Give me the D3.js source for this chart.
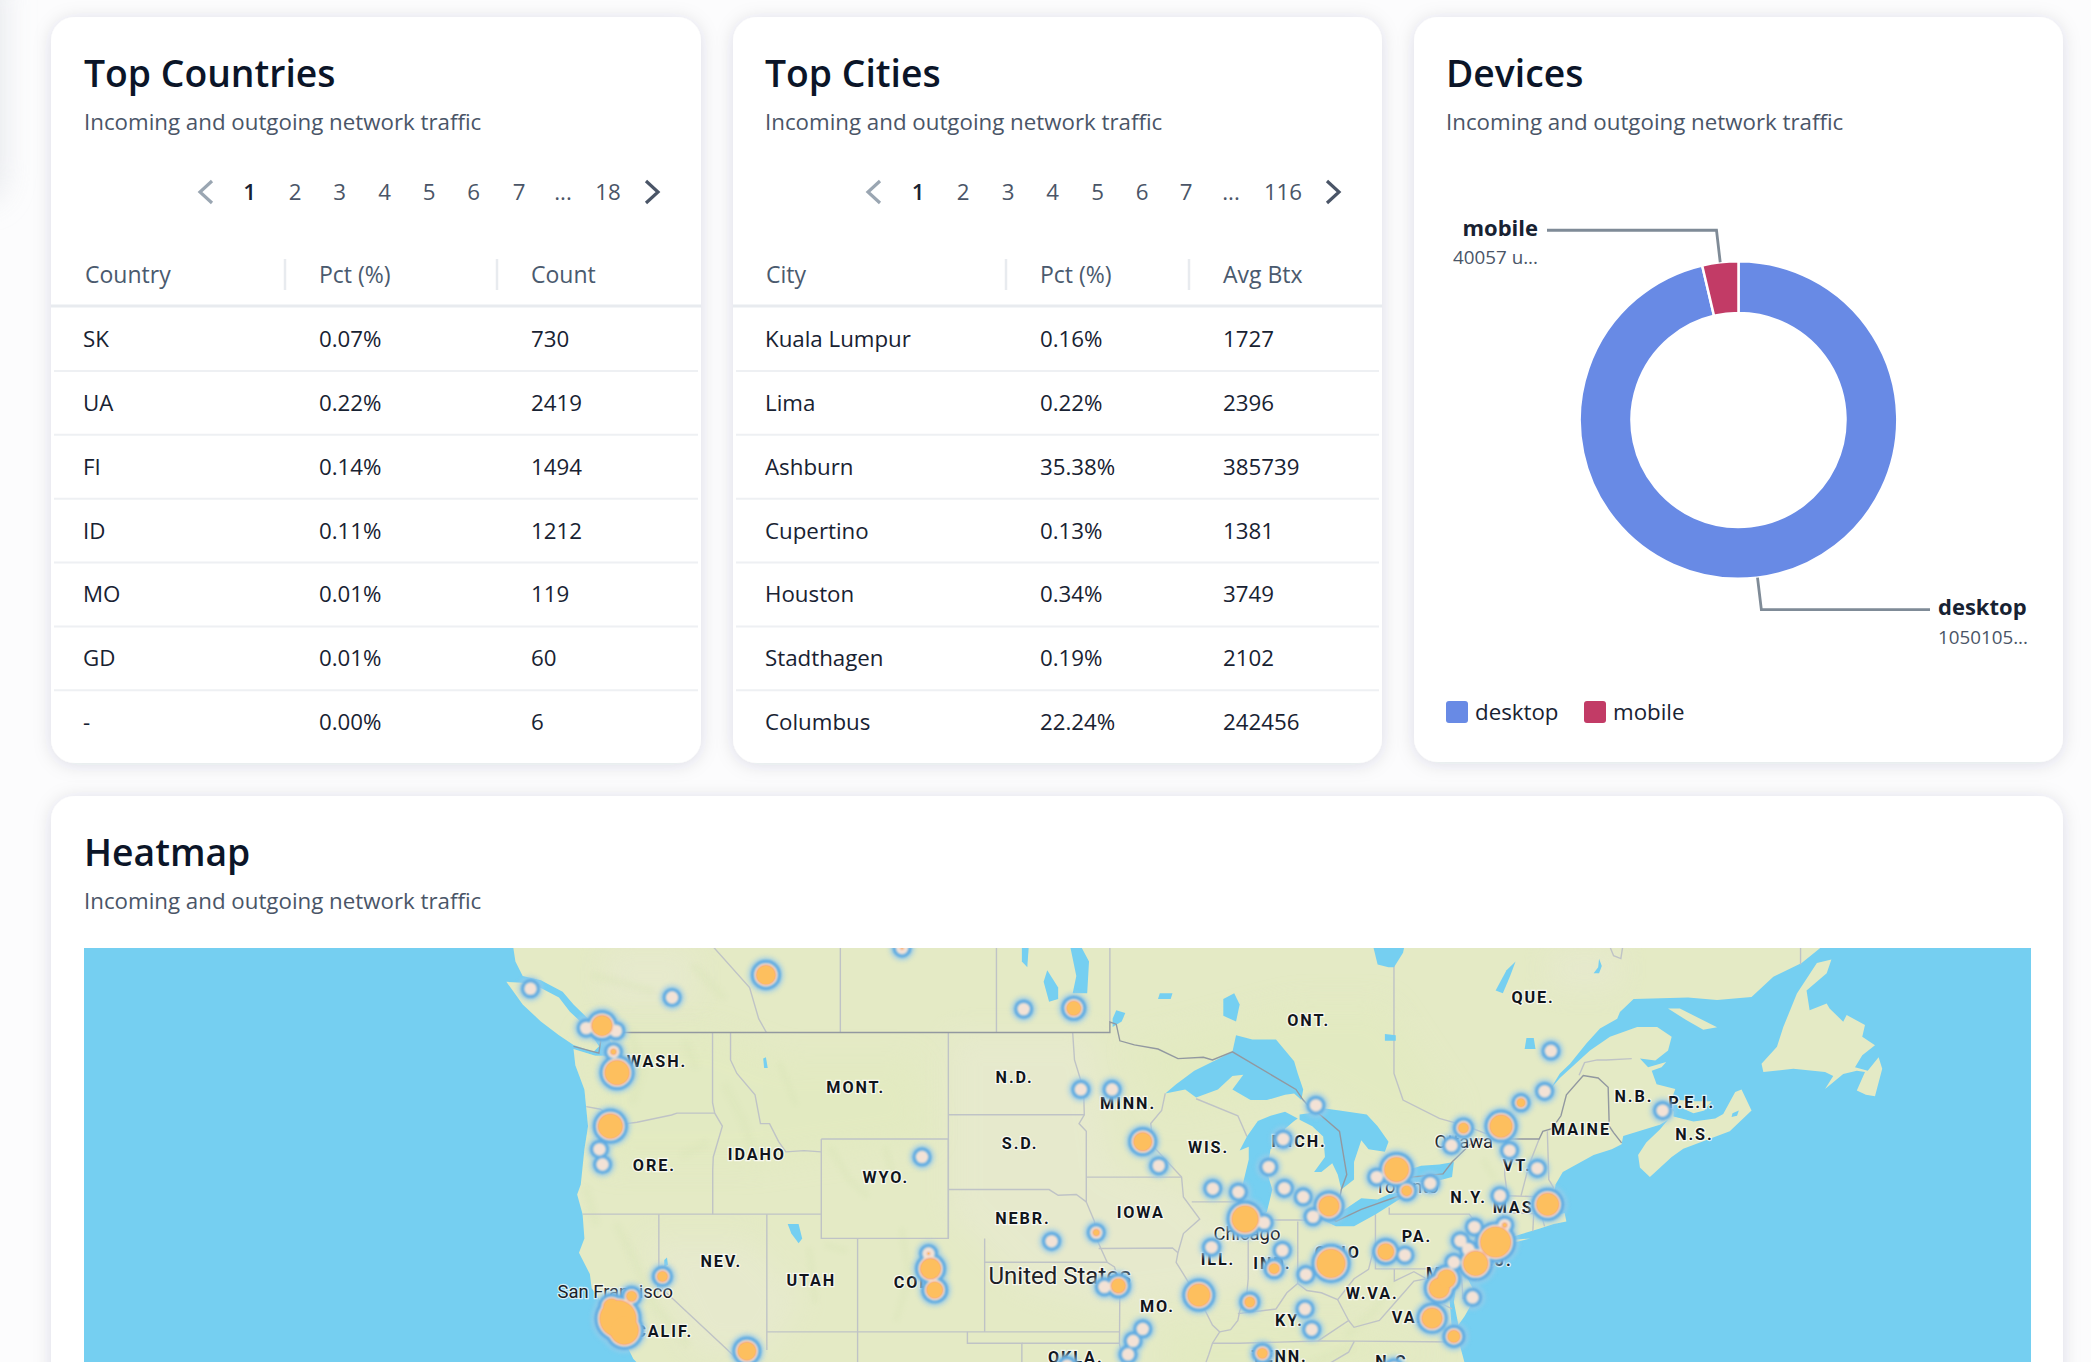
<!DOCTYPE html>
<html><head><meta charset="utf-8">
<script src="https://cdnjs.cloudflare.com/ajax/libs/d3/7.8.5/d3.min.js"></script>
<style>html,body{margin:0;padding:0;background:#fcfcfd;overflow:hidden}svg{display:block}text{font-family:"Open Sans",sans-serif}</style>
</head><body><svg id="c" width="2091" height="1362"></svg>
<script>
// ---------- data ----------
const subtitle = "Incoming and outgoing network traffic";
const countryHeaders = ["Country","Pct (%)","Count"];
const countryNames = ["SK","UA","FI","ID","MO","GD","-"];
const countryPct = ["0.07%","0.22%","0.14%","0.11%","0.01%","0.01%","0.00%"];
const countryCount = [730,2419,1494,1212,119,60,6];
const cityHeaders = ["City","Pct (%)","Avg Btx"];
const cityNames = ["Kuala Lumpur","Lima","Ashburn","Cupertino","Houston","Stadthagen","Columbus"];
const cityPct = ["0.16%","0.22%","35.38%","0.13%","0.34%","0.19%","22.24%"];
const cityAvg = [1727,2396,385739,1381,3749,2102,242456];
const pagesCountries = ["1","2","3","4","5","6","7","...","18"];
const pagesCities = ["1","2","3","4","5","6","7","...","116"];
const deviceNames = ["desktop","mobile"];
const deviceValues = [1050105,40057];
const deviceSubs = ["1050105...","40057 u..."];
const deviceColors = ["#688AE5","#C23B66"];

// map geography, [lon,lat]
const mainland = [[-129,53],[-128.1,52.3],[-127.9,51.5],[-127.5,51],[-126.5,50.85],[-125.3,50.45],[-124.7,50],[-123.9,49.5],[-123.2,49.3],[-122.9,49],[-122.6,48.6],[-122.4,48.2],[-122.3,47.5],[-122.6,47.2],[-123,47.2],[-122.7,47.8],[-122.7,48.15],[-123.5,48.15],[-124.7,48.4],[-124.6,47.8],[-124.1,46.9],[-124,46.2],[-123.9,45.5],[-124.1,44.6],[-124.3,43.2],[-124.5,42.8],[-124.2,42],[-124.1,41],[-124.4,40.4],[-123.8,39.5],[-123.7,38.9],[-122.9,38],[-122.5,37.7],[-122.4,37.2],[-121.9,36.6],[-121.4,35.8],[-120.7,35.2],[-120.6,34.6],[-120.6,34],[-75.5,34],[-75.5,35.3],[-76,36.8],[-76.3,37],[-76.4,38],[-76.5,39.2],[-76,39.4],[-76.2,38.3],[-75.95,37.3],[-75.6,37.7],[-75.1,38.4],[-75.1,38.8],[-75.5,39.4],[-74.9,39.2],[-74.2,39.7],[-74,40.4],[-74,40.6],[-72,41],[-73.7,40.9],[-71.5,41.4],[-70.7,41.6],[-70,41.7],[-70.1,42.05],[-70.6,41.95],[-71,42.3],[-70.7,42.7],[-70.6,43.2],[-70.2,43.7],[-69.6,43.94],[-68.5,44.38],[-67.5,44.6],[-66.96,44.8],[-66.87,45.12],[-64.85,45.56],[-64.4,45.75],[-64.85,45.37],[-65.6,44.87],[-66.05,44.38],[-65.95,43.88],[-65.4,43.5],[-64.2,44.3],[-63.56,44.62],[-61,45.3],[-59.8,46.1],[-60.35,46.9],[-60.7,46.8],[-61.36,45.97],[-61.8,45.8],[-63,45.68],[-64.1,45.87],[-64.1,46.05],[-64.3,46.36],[-64,46.92],[-65.03,47.1],[-65.3,47.6],[-64.76,47.73],[-64.5,47.92],[-65.5,47.73],[-65.95,48.05],[-65.1,47.98],[-64.4,48.35],[-64.2,48.85],[-65,49.2],[-66.1,49.2],[-67.6,48.85],[-68.7,48.35],[-69.44,47.9],[-70.36,47.33],[-70.9,46.9],[-70.36,47.5],[-69.8,47.86],[-68.9,48.6],[-68.15,49.15],[-67.2,49.5],[-67.05,49.74],[-66.3,50.2],[-63.3,50.25],[-61.7,50.16],[-59.8,50.27],[-58.6,50.98],[-57.04,51.45],[-55.94,52],[-55.5,53]];
const islands = [
 [[-128.4,50.8],[-127,50.75],[-125.5,50.25],[-124.9,49.75],[-124,49.2],[-123.3,48.5],[-123.6,48.3],[-124.7,48.55],[-125.5,48.9],[-126.5,49.4],[-127.5,50]],
 [[-55.4,51.57],[-55.66,51.1],[-56.77,50.5],[-56.6,49.8],[-55.66,50.04],[-55.5,49.86],[-54.75,49.39],[-54.56,49.63],[-53.55,49.27],[-53.7,48.85],[-53,48.54],[-53.7,48.17],[-54.1,47.73],[-53.4,47.6],[-52.8,48.1],[-52.6,47.67],[-53,46.64],[-53.5,46.7],[-54,46.86],[-53.55,47.55],[-54,47.6],[-54.75,47.48],[-55.75,46.92],[-55.3,47.4],[-55.75,47.55],[-57.5,47.67],[-59.15,47.55],[-59.25,47.86],[-58.4,48.48],[-58.05,49.2],[-57.3,50.39],[-56.2,51.45]],
 [[-64.4,49.86],[-63.75,49.86],[-61.7,49.19],[-62.46,49.1],[-63.4,49.45]],
 [[-64.4,46.6],[-63.8,46.5],[-62.9,46.45],[-62,46.45],[-62.4,46.1],[-63,46],[-63.8,46.25]]
];
const lakes = [
 [[-92.1,46.75],[-91,46.9],[-90.4,46.6],[-89.2,46.9],[-88.4,47.4],[-87.8,47.45],[-88.4,46.9],[-87.4,46.5],[-86.5,46.5],[-85.5,46.7],[-85,46.75],[-84.6,46.5],[-84.5,46.9],[-84.8,47.5],[-85,47.95],[-86,48.75],[-87.3,48.75],[-88.2,48.9],[-88.4,48.3],[-89.3,48],[-90.5,47.6],[-91.5,47.1]],
 [[-87.5,41.65],[-87.2,41.7],[-86.5,42.1],[-86.2,43],[-86.5,43.7],[-86.3,44.6],[-85.6,45],[-85.5,45.4],[-85,45.7],[-84.8,45.8],[-85.5,46.05],[-86.3,45.9],[-87,45.7],[-87.6,45.1],[-88,44.55],[-87.5,44.7],[-87.5,44.2],[-87.9,43],[-87.8,42.3]],
 [[-84.7,45.75],[-84,45.5],[-83.4,45.1],[-83.3,44.3],[-83.9,43.7],[-83.5,43.7],[-82.9,44.05],[-82.6,43.6],[-82.4,43],[-81.7,43.4],[-81.7,44.1],[-81.3,44.95],[-80.9,44.6],[-80,44.5],[-79.8,44.9],[-80.4,45.5],[-81,45.95],[-82.5,46.1],[-83.5,46.2],[-84.2,46],[-84.7,45.95]],
 [[-83.4,41.75],[-82.7,41.5],[-81.7,41.5],[-80.5,42],[-79,42.7],[-78.9,42.9],[-79.6,42.87],[-80.4,42.6],[-81.3,42.65],[-82.5,42.05],[-83.1,42.1]],
 [[-79.7,43.25],[-79,43.27],[-77.5,43.27],[-76.3,43.5],[-76.2,44.1],[-77,44],[-78,43.95],[-79.3,43.65],[-79.7,43.4]],
 [[-82.9,42.35],[-82.5,42.65],[-82.45,42.35]],
 [[-97.2,50.4],[-96.4,50.4],[-96.3,51.5],[-96.9,52.2],[-97.4,52.2],[-97,51]],
 [[-98.5,50.1],[-98,50.2],[-98,50.6],[-98.6,51.2],[-98.8,50.8]],
 [[-100,52.2],[-99.6,52.2],[-99.7,51.3],[-100,51.5]],
 [[-95,49.2],[-94.5,49.4],[-94.3,49.7],[-94.8,49.8],[-95,49.5]],
 [[-88.9,49.6],[-88.2,49.4],[-88,50],[-88.3,50.4],[-88.9,50.2]],
 [[-92.5,50.2],[-91.8,50.2],[-91.7,50.4],[-92.4,50.4]],
 [[-80.8,52.4],[-78.8,52.4],[-79,51.8],[-79.5,51.3],[-79.8,51.3],[-80.4,51.4]],
 [[-80,48.7],[-79.4,48.7],[-79.4,48.9],[-80,48.95]],
 [[-73.9,50.5],[-73.3,51.2],[-72.8,51.5],[-73.1,51],[-73.5,50.4]],
 [[-68.2,51.6],[-68.05,51.35],[-68.2,51.1],[-68.5,51.1],[-68.25,51.3]],
 [[-72.3,48.4],[-71.7,48.4],[-71.8,48.8],[-72.2,48.8]],
 [[-112.9,41.6],[-112.3,41.6],[-112.1,41],[-112.3,40.8],[-112.7,41.2]],
 [[-114.2,47.7],[-114,47.7],[-114.1,48.1],[-114.25,48.05]],
 [[-120.1,38.9],[-119.95,38.9],[-119.95,39.2],[-120.1,39.2]],
 [[-119.7,39.8],[-119.5,39.9],[-119.55,40.2],[-119.7,40.1]],
 [[-60.9,45.85],[-60.6,45.9],[-60.5,46.1],[-60.85,46]]
];
const paleLand = [
 [[-104,49],[-96,49],[-95,44],[-91,43],[-88,41],[-85,39.5],[-90,38.5],[-95,38],[-100,39],[-104,42]],
 [[-121,41],[-115,41],[-112,38.5],[-114,36],[-118,36]],
 [[-71,52],[-67,52],[-67,50.5],[-71,50.5]],
 [[-123,52],[-118,52],[-118,50],[-123,50]]
];
const greenLand = [
 [[-124,49],[-117,49],[-113,48],[-106,48],[-105,45],[-115,44],[-123,44]],
 [[-94,48.5],[-85,50],[-80,50],[-76,46],[-79,45],[-84,47],[-92,46]],
 [[-92,37],[-82,37.2],[-77,36],[-84,35],[-92,35]]
];
const ridges = [
 [[-121.5,49],[-121,47.5],[-121.4,46.5]],[[-118.5,48.6],[-118,47.8]],[[-116.3,47],[-115.3,45.6],[-114.8,44.5]],[[-113.3,47.8],[-112.5,46.4]],
 [[-110.5,44.6],[-109.5,43.4],[-108.6,42.8]],[[-106.6,41.3],[-106.2,39.4],[-106.9,37.6]],[[-110.7,40.7],[-109.8,40.5]],[[-122.3,41.5],[-121.4,40.2],[-120.3,38.2],[-118.5,36.5]],
 [[-111.7,40.5],[-111.4,38.4]],[[-117.5,44.8],[-118.6,44.4]],[[-107.5,44.6],[-107.1,43.5]],[[-124,43],[-123.5,41.7]],
 [[-79.5,39.3],[-80.6,37.9],[-82,36.9]],[[-84,35.6],[-81.9,36.3]],[[-74.5,44.1],[-74,43.5]],[[-72.8,44],[-71.6,44.5]],[[-123.5,51],[-120.5,50.5]],[[-118,51.3],[-116.5,50.3]]
];
const borderLines = [
 [[-124.7,48.5],[-123.3,48.25],[-123.2,48.7],[-123.3,49],[-122.75,49],[-95.15,49],[-95.15,49.38],[-94.8,49.3],[-94.6,48.7],[-93.8,48.55],[-92.5,48.4],[-91.4,48.05],[-90,48.1],[-89.5,48],[-88.4,48.3],[-84.9,46.9],[-84.5,46.5],[-84.1,46.2],[-83.5,45.9],[-82.5,45.3],[-82.1,43.6],[-82.4,43],[-82.5,42.6],[-83.1,42.1],[-82.7,41.7],[-81.3,42.2],[-79,42.8],[-79.05,43.3],[-79.2,43.45],[-76.8,43.63],[-76.3,44.1],[-75,45],[-74.7,45],[-71.5,45],[-71.3,45.3],[-70.8,45.4],[-70.3,45.9],[-70,46.7],[-69.07,47.42],[-68.25,47.33],[-67.7,46.98],[-67.64,45.5],[-67.4,45.25],[-66.96,44.85]]
];
const stateLines = [
 [[-124,46.25],[-123.2,46.15],[-122.8,45.9],[-122.3,45.55],[-121.2,45.65],[-119.3,45.93],[-119,46],[-116.92,46]],
 [[-117.04,49],[-117.04,46.4],[-116.92,46],[-116.5,45.5],[-117,44.3],[-117.03,43.8],[-117.03,42]],
 [[-124.2,42],[-111.05,42]],
 [[-116.05,49],[-116.05,48],[-115.7,47.5],[-114.7,46.7],[-114.4,45.6],[-113.9,45.6],[-113.4,44.9],[-113,44.5],[-112,44.55],[-111.05,44.5]],
 [[-111.05,45],[-104.05,45],[-104.05,41],[-111.05,41],[-111.05,45]],
 [[-104.05,49],[-104.05,41]],
 [[-104.05,45.94],[-96.56,45.94]],
 [[-104.05,43],[-98.5,43],[-98,42.77],[-97,42.8],[-96.45,42.5]],
 [[-102.05,41],[-102.05,40],[-95.3,40]],
 [[-97.2,49],[-97.1,48],[-96.6,46.9],[-96.56,45.94],[-96.85,45.6],[-96.45,45.3],[-96.45,42.5],[-96,41.7],[-95.9,41],[-95.3,40],[-94.9,39.8],[-94.6,39.1],[-94.62,36.5],[-94.43,35.4]],
 [[-120,42],[-120,39],[-114.63,35]],
 [[-114.05,42],[-114.05,36.2]],
 [[-109.05,41],[-109.05,35]],
 [[-102.05,40],[-102.05,37]],
 [[-114.05,37],[-94.62,37]],
 [[-103,37],[-103,36.5],[-100,36.5],[-100,35]],
 [[-100,36.5],[-94.62,36.5]],
 [[-96.45,43.5],[-91.22,43.5]],
 [[-92.1,46.75],[-92.3,46.1],[-92.9,45.6],[-92.75,44.7],[-91.2,43.5],[-91.1,42.7],[-90.2,41.8],[-91.1,41.2],[-91.4,40.4],[-91.5,40],[-90.7,39],[-90.2,38.7],[-90.2,38.4],[-89.5,37.3],[-89.1,37],[-89.5,36.5],[-89.7,36],[-90.1,35.1]],
 [[-95.77,40.58],[-91.7,40.6],[-91.4,40.4]],
 [[-90.64,42.5],[-87.8,42.5]],
 [[-90.4,46.55],[-88.1,45.9],[-87.6,45.1]],
 [[-87.53,41.7],[-87.53,39.3],[-87.6,38.7],[-88,37.9],[-88.1,37.5],[-88.5,37.1],[-89.1,37]],
 [[-84.8,41.7],[-84.8,39.1]],
 [[-87.2,41.76],[-84.8,41.76],[-83.45,41.73]],
 [[-88.1,37.8],[-87,37.9],[-86,38],[-85.4,38.7],[-84.8,39.1],[-84.3,38.8],[-83.5,38.7],[-82.6,38.4],[-82,39],[-81.7,39.3],[-80.9,39.7],[-80.6,40.6]],
 [[-80.52,42],[-80.52,39.72],[-75.8,39.72],[-75.7,38.46],[-75.05,38.45]],
 [[-79.76,42.27],[-79.76,42],[-75.35,42],[-74.7,41.36],[-73.9,41]],
 [[-74.7,41.36],[-75.1,40.9],[-74.75,40.2],[-75.4,39.8]],
 [[-73.35,45],[-73.4,43.6],[-73.25,42.75],[-73.5,42.05],[-73.5,41.3],[-73.65,41]],
 [[-73.25,42.75],[-71.3,42.7],[-70.85,42.87]],
 [[-73.5,42.05],[-71.4,42.02],[-71.2,41.5]],
 [[-71.8,42.02],[-71.85,41.3]],
 [[-71.5,45],[-72.05,44],[-72.5,42.75]],
 [[-71.05,45.3],[-70.97,43.4],[-70.7,43.07]],
 [[-82,37.5],[-81.7,37.2],[-80.3,37.5],[-79.3,38.4],[-78.4,39.2],[-77.7,39.3]],
 [[-79.48,39.72],[-79.48,39.2],[-78.4,39.6],[-77.7,39.3],[-77,38.9],[-77.3,38.4],[-76.3,38]],
 [[-83.68,36.6],[-82,37.5],[-82.6,38.4]],
 [[-89.5,36.5],[-88,36.5],[-83.68,36.6],[-81.68,36.59],[-75.9,36.55]],
 [[-81.68,36.59],[-82,36.1],[-84.3,35]],
 [[-79.5,53],[-79.5,47.5],[-79,46.5],[-77,45.8],[-75.5,45.5],[-74.4,45.2]],
 [[-95.15,53],[-95.15,49.38]],
 [[-101.4,53],[-101.4,49]],
 [[-110,53],[-110,49]],
 [[-118,53],[-117,52],[-115,50.6],[-114.5,49.5],[-114.07,49]],
 [[-69.3,47.43],[-69,47.9],[-68.3,48],[-67.8,48],[-66.4,48.05]],
 [[-57.1,51.4],[-57.1,53]],
 [[-67.6,52],[-67.4,51.7],[-67,51.6],[-66.9,52]]
];
const placeLabels = [["WASH.",-120.1,47.97],["MONT.",-109.15,46.98],["N.D.",-100.4,47.36],["S.D.",-100.1,44.85],["IDAHO",-114.6,44.4],["ORE.",-120.25,44],["WYO.",-107.5,43.51],["NEBR.",-99.94,41.86],["NEV.",-116.56,40.04],["UTAH",-111.6,39.24],["COLO.",-105.56,39.17],["CALIF.",-119.7,37.03],["QUE.",-71.84,50.28],["ONT.",-84.2,49.45],["MINN.",-94.15,46.4],["N.B.",-66.28,46.65],["P.E.I.",-63.1,46.43],["MAINE",-69.2,45.4],["N.S.",-62.95,45.2],["WIS.",-89.72,44.7],["MICH.",-84.73,44.93],["VT.",-72.7,43.99],["N.Y.",-75.39,42.7],["MASS.",-72.43,42.3],["IOWA",-93.45,42.07],["PA.",-78.23,41.1],["OHIO",-82.6,40.45],["ILL.",-89.2,40.15],["IND.",-86.2,39.95],["N.J.",-74,40.1],["W.VA.",-80.7,38.7],["MD.",-76.8,39.55],["MO.",-92.53,38.15],["KY.",-85.26,37.5],["VA.",-78.76,37.65],["TENN.",-85.8,35.95],["OKLA.",-97.03,35.9],["N.C.",-79.46,35.7]];
const cityLabels = [["San Francisco",-122.4,38.73,18.4],["Chicago",-87.6,41.2,18.4],["Ottawa",-75.65,44.9,18.4],["Toronto",-78.8,43.1,18.4],["United States",-97.9,39.35,24]];
// heat points: lon, lat, size of hot core
const heatPoints = [[-127.07,50.56,0],[-119.27,50.25,0],[-114.1,51.04,9.5],[-106.6,51.96,1],[-99.9,49.84,0],[-123.13,49.25,10],[-124,49.16,0],[-122.36,49.06,0],[-122.5,48.3,2.5],[-122.3,47.53,12],[-122.67,45.5,12],[-123.27,44.6,0],[-123.1,44,0],[-105.5,44.3,0],[-119.8,39.4,5],[-121.5,38.55,5],[-122.6,38.09,8],[-122.25,37.58,18],[-121.9,37.07,14],[-115.15,36.15,9],[-105.03,39.73,10],[-105.14,40.37,1],[-104.8,38.82,8],[-98.36,40.88,0],[-95.9,41.24,3],[-97.14,49.87,7],[-70.85,48.33,0],[-71.2,46.83,0],[-72.5,46.4,4],[-73.6,45.5,11],[-75.67,45.43,5],[-76.33,44.75,0],[-73.13,44.55,0],[-71.6,43.85,0],[-64.7,46.1,0],[-83.8,46.3,0],[-85.6,45,0],[-86.4,43.9,0],[-85.54,43.05,0],[-84.5,42.7,0],[-83.08,42.33,10],[-83.96,41.9,0],[-89.48,43.04,0],[-88.07,42.9,0],[-87.7,41.8,13],[-86.65,41.65,0],[-93.34,44.9,9],[-92.46,43.95,0],[-96.75,46.9,0],[-95.03,46.9,0],[-89.55,40.63,0],[-85.65,40.5,0],[-86.1,39.73,5],[-84.35,39.48,0],[-82.97,39.95,14],[-79.95,40.45,8],[-78.9,40.3,0],[-79.36,43.8,12],[-80.45,43.5,0],[-77.5,43.25,0],[-78.8,42.95,5],[-73.66,42.75,0],[-71.03,42.4,11],[-73.9,40.85,15],[-73.4,41.55,2],[-75.07,41.47,0],[-75.84,40.9,0],[-75.4,40.55,0],[-75,39.95,12],[-76.2,40,0],[-77,38.9,10],[-76.6,39.3,9],[-75.17,38.5,0],[-77.4,37.6,10],[-76.2,36.8,6],[-94.68,39,7],[-95.45,38.95,0],[-90.25,38.6,11],[-87.44,38.3,5],[-84.4,38,0],[-84.03,37.1,0],[-93.34,37.13,0],[-93.87,36.6,0],[-94.15,36,0],[-86.75,36.05,5],[-97.5,35.5,0],[-79.5,35.4,0]];

// ---------- drawing ----------
const svg = d3.select("#c");
const defs = svg.append("defs");
const sh = defs.append("filter").attr("id","sh").attr("x","-10%").attr("y","-10%").attr("width","120%").attr("height","125%");
sh.append("feDropShadow").attr("dx",0).attr("dy",2).attr("stdDeviation",9).attr("flood-color","#1f2d3d").attr("flood-opacity",0.13);
[["b1",1],["b2",2.2],["b8",14],["b14",16]].forEach(([id,s])=>defs.append("filter").attr("id",id).attr("x","-100%").attr("y","-100%").attr("width","300%").attr("height","300%").append("feGaussianBlur").attr("stdDeviation",s));

// faint edge of the side panel at top-left
svg.append("rect").attr("x",-40).attr("y",-30).attr("width",42).attr("height",230).attr("rx",20).attr("fill","#dfe2e7").attr("filter","url(#b14)").attr("opacity",.8);

const cards = [
 {x:51,y:17,w:650,h:746,title:"Top Countries"},
 {x:733,y:17,w:649,h:746,title:"Top Cities"},
 {x:1414,y:17,w:649,h:745,title:"Devices"},
 {x:51,y:796,w:2012,h:640,title:"Heatmap"}
];
const titleColor="#0b1528", subColor="#4a5567", headColor="#4a5a6e", rowColor="#182232", lineColor="#e8ebef";
const cg = svg.selectAll("g.card").data(cards).join("g").attr("class","card").attr("transform",d=>`translate(${d.x},${d.y})`);
cg.append("rect").attr("width",d=>d.w).attr("height",d=>d.h).attr("rx",24).attr("fill","#fff").attr("filter","url(#sh)");
cg.append("text").attr("x",d=>d.x==733||d.x==1414?32:33).attr("y",70).attr("font-size",37.3).attr("font-weight",600).attr("fill",titleColor).text(d=>d.title);
cg.append("text").attr("x",d=>d.x==733||d.x==1414?32:33).attr("y",113).attr("font-size",22.3).attr("fill",subColor).text(subtitle);

function chevron(g,x,y,dir,col){
  g.append("path").attr("d",d3.line()([[x-dir*6,y-11],[x+dir*6,y],[x-dir*6,y+11]])).attr("fill","none").attr("stroke",col).attr("stroke-width",3.2);
}
function pager(pages,xs,prev,next){
  const g=svg.append("g");
  chevron(g,prev,192,-1,"#9aa6b2");
  chevron(g,next,192,1,"#4a5567");
  g.selectAll("text").data(pages).join("text").attr("x",(d,i)=>xs[i]).attr("y",200).attr("text-anchor","middle").attr("font-size",22.3).attr("font-weight",(d,i)=>i==0?600:400).attr("fill",(d,i)=>i==0?rowColor:subColor).text(d=>d);
}
pager(pagesCountries,[249.5,295,339.5,384.5,429,473.5,519,563,608],206,652);
pager(pagesCities,[918,963,1008,1052.5,1097.5,1142,1186,1231,1283],874,1333);

const rowY = d3.scaleLinear().domain([0,1]).range([347,410.85]);
function table(x0,x1,hdr,hx,seps,cols,cx){
  const g=svg.append("g");
  g.selectAll("text.h").data(hdr).join("text").attr("class","h").attr("x",(d,i)=>hx[i]).attr("y",283).attr("font-size",23).attr("font-weight",500).attr("fill",headColor).text(d=>d);
  g.selectAll("line.s").data(seps).join("line").attr("class","s").attr("x1",d=>d).attr("x2",d=>d).attr("y1",259).attr("y2",290).attr("stroke",lineColor).attr("stroke-width",2.5);
  g.append("line").attr("x1",x0).attr("x2",x1).attr("y1",306).attr("y2",306).attr("stroke",lineColor).attr("stroke-width",3);
  g.selectAll("line.r").data(d3.range(6)).join("line").attr("class","r").attr("x1",x0+3).attr("x2",x1-3).attr("y1",d=>rowY(d)+24).attr("y2",d=>rowY(d)+24).attr("stroke","#eef0f3").attr("stroke-width",2);
  cols.forEach((col,k)=>g.selectAll("text.c"+k).data(col).join("text").attr("class","c"+k).attr("x",cx[k]).attr("y",(d,i)=>rowY(i)).attr("font-size",22.3).attr("fill",rowColor).text(d=>d));
}
table(51,701,countryHeaders,[85,319,531],[285,497],[countryNames,countryPct,countryCount],[83,319,531]);
table(733,1382,cityHeaders,[766,1040,1223],[1006,1189],[cityNames,cityPct,cityAvg],[765,1040,1223]);

// donut
const cxD=1738.5, cyD=420, R=158.8, r0=107;
const pie=d3.pie().sort(null)(deviceValues);
const arc=d3.arc().innerRadius(r0).outerRadius(R);
const dg=svg.append("g").attr("transform",`translate(${cxD},${cyD})`);
dg.selectAll("path").data(pie).join("path").attr("d",arc).attr("fill",(d,i)=>deviceColors[i]).attr("stroke","#fff").attr("stroke-width",2.5);
function leader(i,elbowR,endX){
  const a=(pie[i].startAngle+pie[i].endAngle)/2;
  const ang=i==0?Math.PI-0.12:a;
  const p0=[cxD+R*Math.sin(ang),cyD-R*Math.cos(ang)];
  const p1=[cxD+elbowR*Math.sin(ang),cyD-elbowR*Math.cos(ang)];
  svg.append("path").attr("d",d3.line()([p0,p1,[endX,p1[1]]])).attr("fill","none").attr("stroke","#7f8b97").attr("stroke-width",2.8);
}
leader(1,191,1547);
leader(0,191,1930);
const lab=svg.append("g");
lab.append("text").attr("x",1538).attr("y",236).attr("text-anchor","end").attr("font-size",22).attr("font-weight",700).attr("fill",rowColor).text(deviceNames[1]);
lab.append("text").attr("x",1538).attr("y",264).attr("text-anchor","end").attr("font-size",18.8).attr("fill",subColor).text(deviceSubs[1]);
lab.append("text").attr("x",1938).attr("y",615).attr("font-size",22).attr("font-weight",700).attr("fill",rowColor).text(deviceNames[0]);
lab.append("text").attr("x",1938).attr("y",644).attr("font-size",18.8).attr("fill",subColor).text(deviceSubs[0]);
const legX=[1446,1584];
const lg=svg.append("g").selectAll("g").data(deviceNames).join("g").attr("transform",(d,i)=>`translate(${legX[i]},701)`);
lg.append("rect").attr("width",22).attr("height",22).attr("rx",3).attr("fill",(d,i)=>deviceColors[i]);
lg.append("text").attr("x",29).attr("y",19).attr("font-size",22.3).attr("fill",rowColor).text(d=>d);

// map
const mapX=84, mapY=948, mapW=1947, mapH=414;
defs.append("clipPath").attr("id","mapclip").append("rect").attr("x",mapX).attr("y",mapY).attr("width",mapW).attr("height",mapH+60);
const proj=d3.geoMercator().scale(1040).translate([2837,2055.7]).precision(0);
const ringPath=c=>d3.line()(c.map(p=>proj(p)))+"Z";
const linePath=c=>d3.line()(c.map(p=>proj(p)));
const m=svg.append("g").attr("clip-path","url(#mapclip)");
m.append("rect").attr("x",mapX).attr("y",mapY).attr("width",mapW).attr("height",mapH+60).attr("fill","#75cff1");
m.append("path").attr("d",ringPath(mainland)).attr("fill","#e4eac5");
m.selectAll("path.isl").data(islands).join("path").attr("class","isl").attr("d",ringPath).attr("fill","#e4eac5");
defs.append("clipPath").attr("id","landclip").selectAll("path").data([mainland,...islands]).join("path").attr("d",ringPath);
const tone=m.append("g").attr("clip-path","url(#landclip)");
tone.selectAll("path.p").data(paleLand).join("path").attr("class","p").attr("d",ringPath).attr("fill","#e9e9d6").attr("filter","url(#b8)").attr("opacity",.45);
tone.selectAll("path.g").data(greenLand).join("path").attr("class","g").attr("d",ringPath).attr("fill","#e2eac0").attr("filter","url(#b8)").attr("opacity",.7);
tone.selectAll("path.rd").data(ridges).join("path").attr("class","rd").attr("d",linePath).attr("fill","none").attr("stroke","#d9e4b8").attr("stroke-width",8).attr("stroke-linecap","round").attr("filter","url(#b2)").attr("opacity",.3);
m.selectAll("path.st").data(stateLines).join("path").attr("class","st").attr("d",linePath).attr("fill","none").attr("stroke","#bfc3c6").attr("stroke-width",1.4);
m.selectAll("path.lk").data(lakes).join("path").attr("class","lk").attr("d",ringPath).attr("fill","#75cff1");
m.selectAll("path.bd").data(borderLines).join("path").attr("class","bd").attr("d",linePath).attr("fill","none").attr("stroke","#9298a0").attr("stroke-width",1.4);
m.selectAll("text.pl").data(placeLabels).join("text").attr("class","pl").attr("transform",d=>`translate(${proj([d[1],d[2]])})`).attr("text-anchor","middle").attr("dy",6)
  .style("font-family","Roboto, sans-serif").attr("font-size",16.2).attr("font-weight",700).attr("letter-spacing",1.9).attr("fill","#11151c").attr("stroke","#fff").attr("stroke-width",2.5).attr("stroke-opacity",.75).attr("paint-order","stroke").text(d=>d[0]);
m.selectAll("text.cl").data(cityLabels).join("text").attr("class","cl").attr("transform",d=>`translate(${proj([d[1],d[2]])})`).attr("text-anchor","middle").attr("dy",6)
  .style("font-family","Roboto, sans-serif").attr("font-size",d=>d[3]).attr("fill","#1c2026").attr("stroke","#fff").attr("stroke-width",2.5).attr("stroke-opacity",.7).attr("paint-order","stroke").text(d=>d[0]);
const pale=d=>Math.max(6,d[2]+2);
const heat=(rf,col,flt,op)=>m.append("g").attr("filter",flt?`url(#${flt})`:null).attr("opacity",op)
  .selectAll("circle").data(heatPoints).join("circle").attr("transform",d=>`translate(${proj([d[0],d[1]])})`).attr("r",rf).attr("fill",col);
heat(d=>pale(d)+6.5,"#9ccce8","b2",.75);
heat(d=>pale(d)+3.6,"#5fabe2","b1",1);
heat(d=>pale(d)+.4,"#f3e2d6","b1",1);
const hot=heatPoints.filter(d=>d[2]>0);
const heat2=(rf,col,flt)=>m.append("g").attr("filter",flt?`url(#${flt})`:null).selectAll("circle").data(hot).join("circle").attr("transform",d=>`translate(${proj([d[0],d[1]])})`).attr("r",rf).attr("fill",col);
heat2(d=>d[2]+.6,"#f49d6c","b1");
heat2(d=>d[2]-.3,"#fdbf5e",null);
</script></body></html>
